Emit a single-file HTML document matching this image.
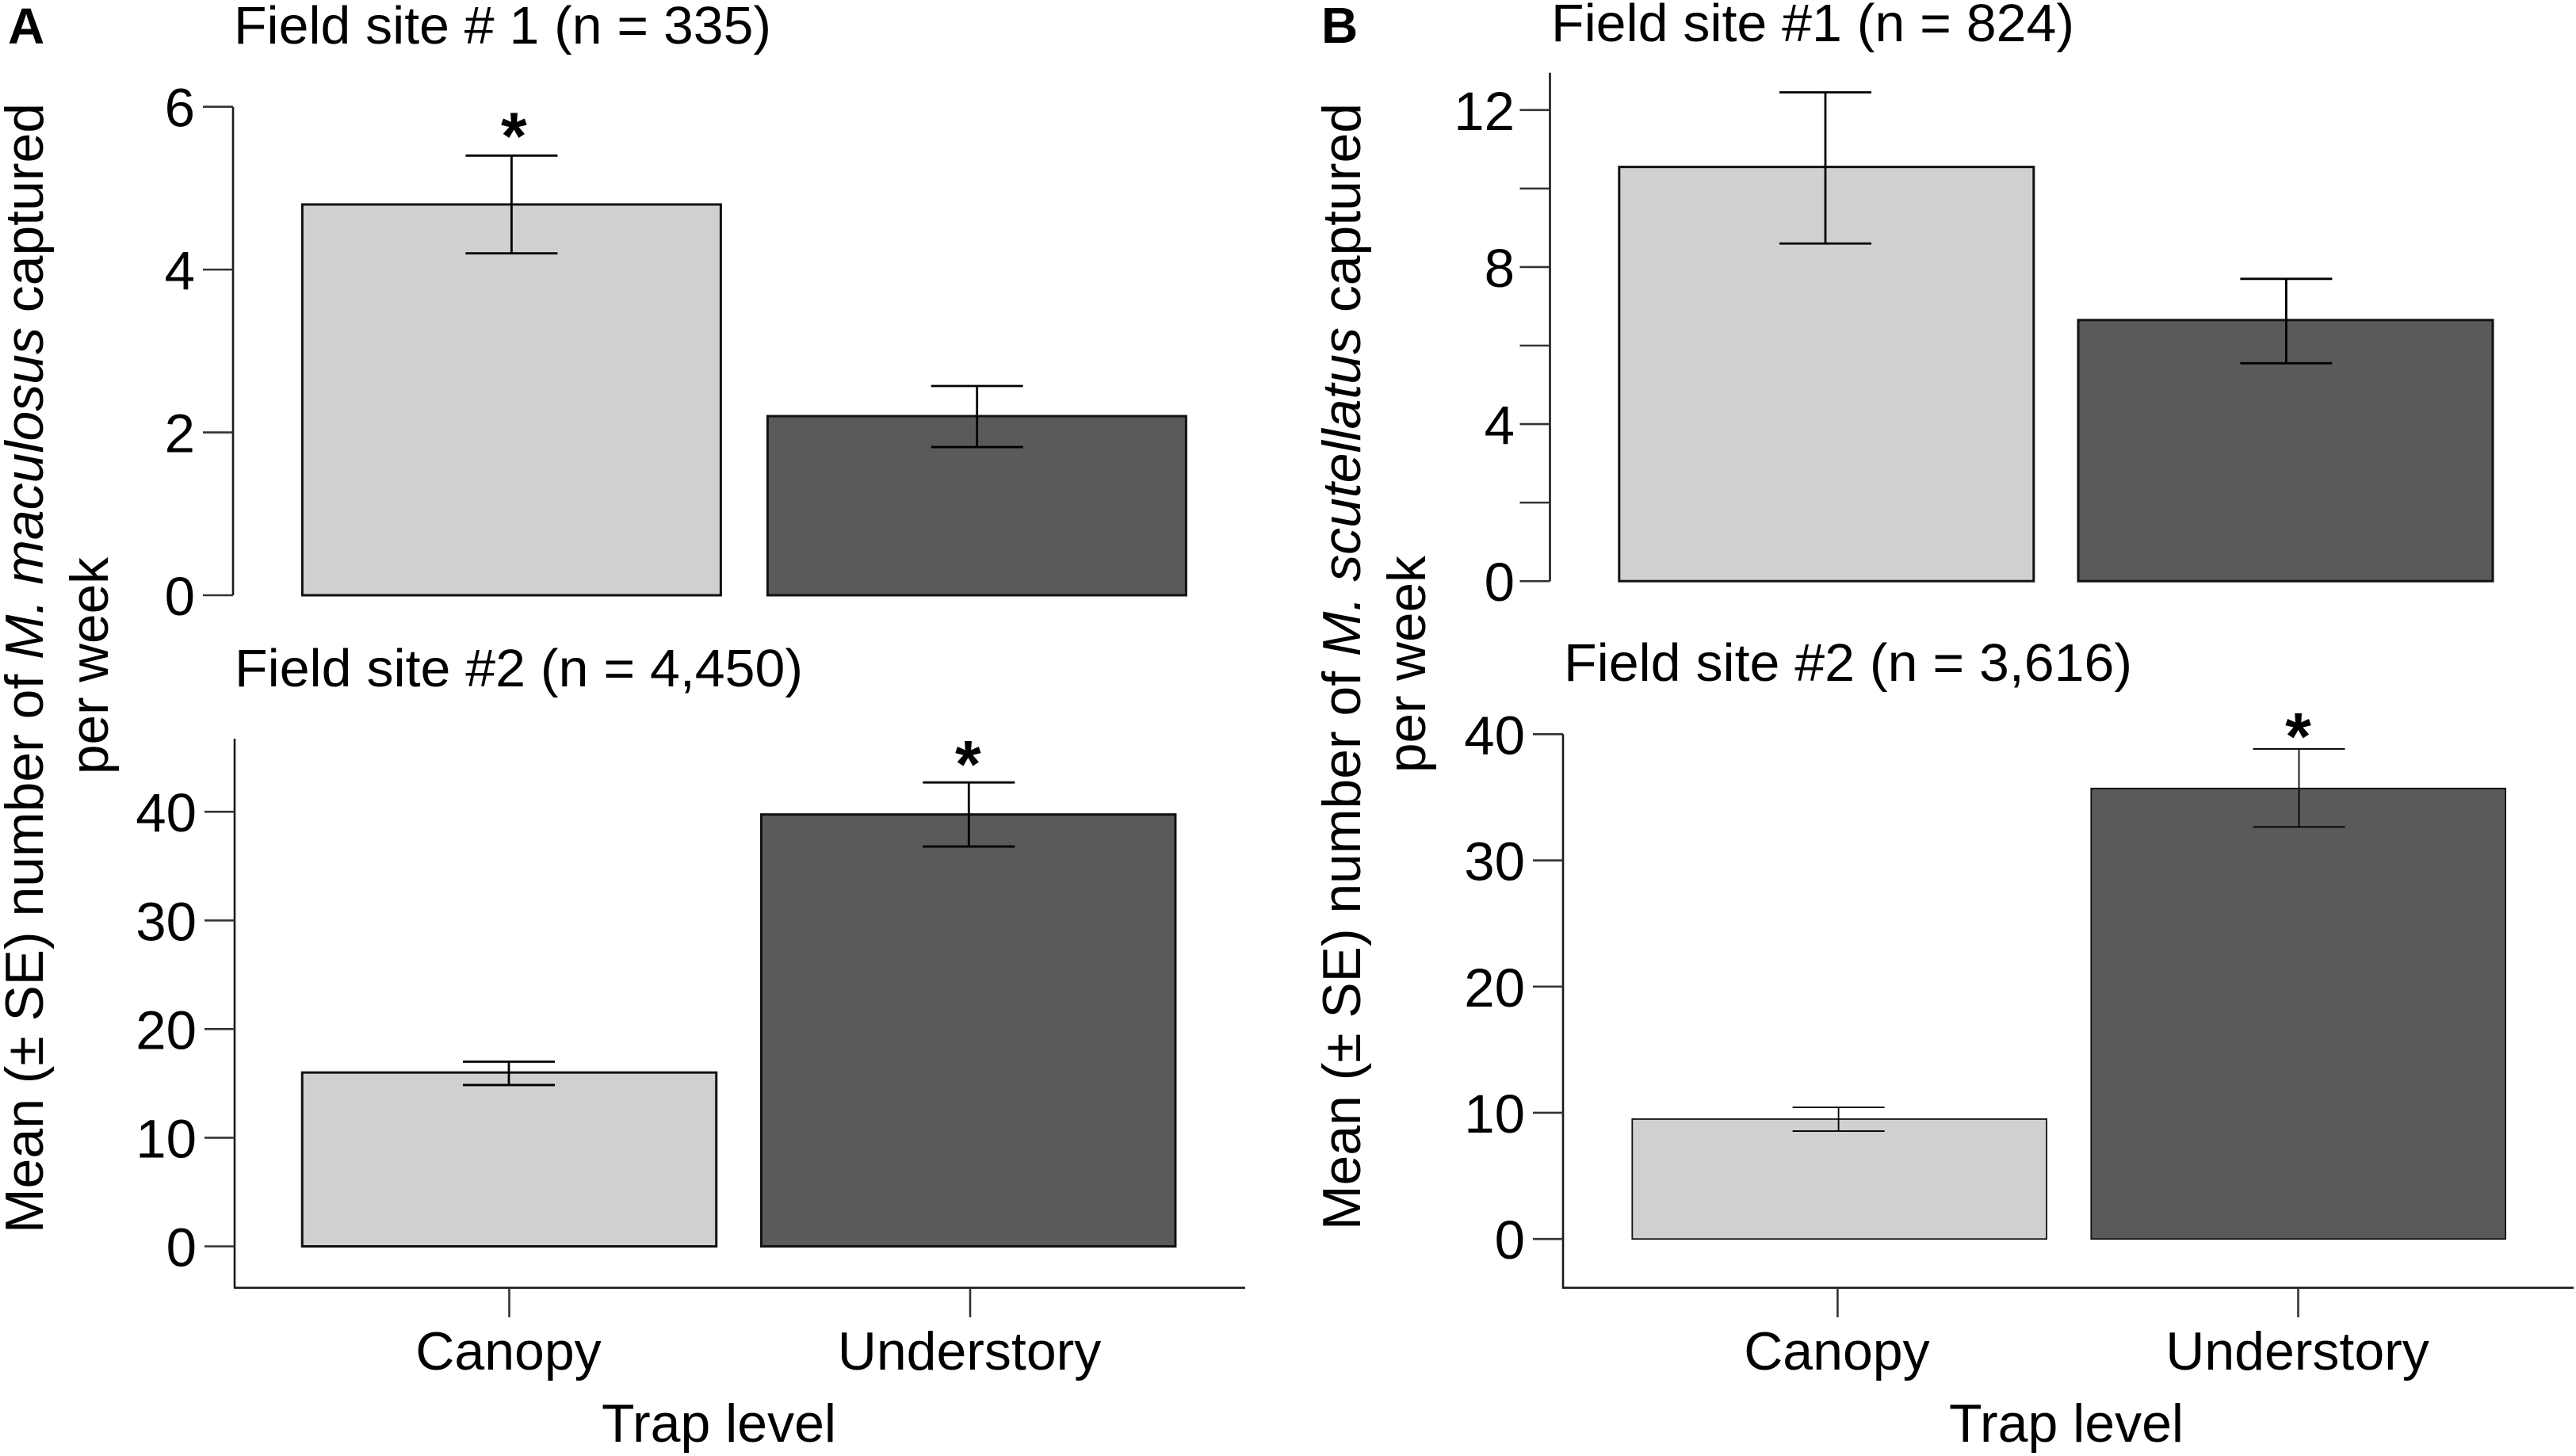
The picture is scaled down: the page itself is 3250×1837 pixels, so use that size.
<!DOCTYPE html>
<html lang="en">
<head>
<meta charset="utf-8">
<title>Mean number of Megaselia captured per week by trap level</title>
<style>
html,body{margin:0;padding:0;background:#fff;}
svg{display:block;}
text{font-family:"Liberation Sans",Arial,sans-serif;fill:#000;}
</style>
</head>
<body>
<svg id="chart" xmlns="http://www.w3.org/2000/svg" width="3250" height="1837" viewBox="0 0 3250 1837">
  <rect x="0" y="0" width="3250" height="1837" fill="#ffffff"/>
  <text x="10" y="55" font-size="64" font-weight="700">A</text>
  <text x="1667" y="54" font-size="64" font-weight="700">B</text>
  <text x="295" y="55" font-size="67" textLength="678" lengthAdjust="spacingAndGlyphs">Field site # 1 (n = 335)</text>
  <text x="296" y="866" font-size="67" textLength="717" lengthAdjust="spacingAndGlyphs">Field site #2 (n = 4,450)</text>
  <text x="1957" y="52" font-size="67" textLength="660" lengthAdjust="spacingAndGlyphs">Field site #1 (n = 824)</text>
  <text x="1973" y="859" font-size="67" textLength="717" lengthAdjust="spacingAndGlyphs">Field site #2 (n = 3,616)</text>
  <text transform="translate(54 1556) rotate(-90)" font-size="67.5" textLength="1426" lengthAdjust="spacingAndGlyphs">Mean (± SE) number of <tspan font-style="italic">M. maculosus</tspan> captured</text>
  <text transform="translate(136 977) rotate(-90)" font-size="67.5">per week</text>
  <text transform="translate(1716 1552) rotate(-90)" font-size="67.5" textLength="1422" lengthAdjust="spacingAndGlyphs">Mean (± SE) number of <tspan font-style="italic">M. scutellatus</tspan> captured</text>
  <text transform="translate(1798 975) rotate(-90)" font-size="67.5">per week</text>
  <text x="907" y="1819" font-size="68" text-anchor="middle">Trap level</text>
  <text x="2607" y="1819" font-size="68" text-anchor="middle">Trap level</text>
  <g id="marks"></g>
</svg>
<script>
// Shared categories
const categories = ['Canopy', 'Understory'];

// Panel A, field site 1
const a1Means = [4.8, 2.2];
const a1Upper = [5.4, 2.57];
const a1Lower = [4.2, 1.82];
const a1Ticks = [0, 2, 4, 6];
const a1TickLabels = ['0', '2', '4', '6'];
const a1Stars = [true, false];

// Panel A, field site 2
const a2Means = [16, 39.75];
const a2Upper = [17, 42.7];
const a2Lower = [14.85, 36.8];
const a2Ticks = [0, 10, 20, 30, 40];
const a2TickLabels = ['0', '10', '20', '30', '40'];
const a2Stars = [false, true];

// Panel B, field site 1
const b1Means = [10.55, 6.65];
const b1Upper = [12.45, 7.7];
const b1Lower = [8.6, 5.55];
const b1Ticks = [0, 2, 4, 6, 8, 10, 12];
const b1TickLabels = ['0', '', '4', '', '8', '', '12'];
const b1Stars = [false, false];

// Panel B, field site 2
const b2Means = [9.5, 35.7];
const b2Upper = [10.43, 38.83];
const b2Lower = [8.55, 32.65];
const b2Ticks = [0, 10, 20, 30, 40];
const b2TickLabels = ['0', '10', '20', '30', '40'];
const b2Stars = [false, true];

const SVG_NS = 'http://www.w3.org/2000/svg';
const root = document.getElementById('marks');

function make(tag, attrs, text) {
  const el = document.createElementNS(SVG_NS, tag);
  for (const k in attrs) el.setAttribute(k, attrs[k]);
  if (text !== undefined) el.textContent = text;
  root.appendChild(el);
  return el;
}

function linearScale(domainMin, domainMax, rangeMin, rangeMax) {
  return v => rangeMin + (v - domainMin) / (domainMax - domainMin) * (rangeMax - rangeMin);
}

function drawPanel(p) {
  const y = linearScale(0, p.domainMax, p.y0, p.yMax);
  const barX = i => p.barCenter + i * p.step;
  const errX = i => p.errCenter + i * p.errStep;

  // bars
  p.means.forEach((m, i) => {
    const top = y(m);
    const el = make('rect', {
      x: barX(i) - p.barWidth / 2,
      y: top,
      width: p.barWidth,
      height: y(0) - top,
      fill: i === 0 ? '#d1cfd0' : '#5a5a5a',
      stroke: '#111',
      'stroke-width': p.barStroke
    });
    
    
  });

  // error bars
  p.means.forEach((m, i) => {
    const cx = errX(i);
    const up = y(p.upper[i]);
    const lo = y(p.lower[i]);
    const stem = make('line', {x1: cx, x2: cx, y1: up, y2: lo, stroke: '#000', 'stroke-width': p.errStroke});
    
    
    const capU = make('line', {x1: cx - 58, x2: cx + 58, y1: up, y2: up, stroke: '#000', 'stroke-width': p.errStroke});
    
    
    const capL = make('line', {x1: cx - 58, x2: cx + 58, y1: lo, y2: lo, stroke: '#000', 'stroke-width': p.errStroke});
    
    
    if (p.stars[i]) {
      const star = make('text', {x: cx + p.starShift, y: up + p.starGap, 'font-size': 84, 'font-weight': 700, 'text-anchor': 'middle'}, '*');
      
      
    }
  });

  // y axis
  const yAxis = make('line', {x1: p.axisX, x2: p.axisX, y1: p.axisTop, y2: p.axisBottom, stroke: '#1a1a1a', 'stroke-width': 2.6});
  
  

  p.ticks.forEach((t, i) => {
    const ty = y(t);
    const tick = make('line', {x1: p.axisX - 38, x2: p.axisX, y1: ty, y2: ty, stroke: '#333', 'stroke-width': 2.6});
    
    
    if (p.tickLabels[i] !== '') {
      const label = make('text', {x: p.labelEnd, y: ty + 25, 'font-size': 69, 'text-anchor': 'end'}, p.tickLabels[i]);
      
      
    }
  });

  // x axis
  if (p.xAxisRight) {
    const xAxis = make('line', {x1: p.axisX - 1, x2: p.xAxisRight, y1: 1624.8, y2: 1624.8, stroke: '#1a1a1a', 'stroke-width': 2.6});
    
    
    categories.forEach((c, i) => {
      const tx = p.xTick + i * p.xTickStep;
      const tick = make('line', {x1: tx, x2: tx, y1: 1624.8, y2: 1662, stroke: '#333', 'stroke-width': 2.6});
      
      
      const label = make('text', {x: tx - 1, y: 1728, 'font-size': 68, 'text-anchor': 'middle'}, c);
      
      
    });
  }
}

drawPanel({
  id: 'panel-a1', means: a1Means, upper: a1Upper, lower: a1Lower, ticks: a1Ticks, tickLabels: a1TickLabels, stars: a1Stars,
  domainMax: 6, y0: 751, yMax: 134.7, axisX: 294, axisTop: 134.7, axisBottom: 751, labelEnd: 246,
  barCenter: 645.4, step: 587, barWidth: 528, barStroke: 3, errCenter: 645.4, errStep: 587.3, errStroke: 2.8, starGap: 4, starShift: 3
});
drawPanel({
  id: 'panel-a2', means: a2Means, upper: a2Upper, lower: a2Lower, ticks: a2Ticks, tickLabels: a2TickLabels, stars: a2Stars,
  domainMax: 40, y0: 1572.5, yMax: 1024.2, axisX: 296, axisTop: 932, axisBottom: 1624.8, labelEnd: 248,
  barCenter: 642.5, step: 579.2, barWidth: 522.5, barStroke: 3, errCenter: 642, errStep: 580.3, errStroke: 2.8, starGap: 6, starShift: -1,
  xAxisRight: 1571, xTick: 642.5, xTickStep: 581.5
});
drawPanel({
  id: 'panel-b1', means: b1Means, upper: b1Upper, lower: b1Lower, ticks: b1Ticks, tickLabels: b1TickLabels, stars: b1Stars,
  domainMax: 12, y0: 733.2, yMax: 138.8, axisX: 1955.5, axisTop: 91.8, axisBottom: 733.2, labelEnd: 1911,
  barCenter: 2304.3, step: 579.2, barWidth: 523, barStroke: 3, errCenter: 2303, errStep: 581.4, errStroke: 2.8, starGap: 6, starShift: 0
});
drawPanel({
  id: 'panel-b2', means: b2Means, upper: b2Upper, lower: b2Lower, ticks: b2Ticks, tickLabels: b2TickLabels, stars: b2Stars,
  domainMax: 40, y0: 1563.2, yMax: 926.3, axisX: 1972, axisTop: 926.3, axisBottom: 1624.8, labelEnd: 1924,
  barCenter: 2320.7, step: 579, barWidth: 522.8, barStroke: 1.8, errCenter: 2319.6, errStep: 580.9, errStroke: 1.8, starGap: 13, starShift: -1,
  xAxisRight: 3247, xTick: 2318.4, xTickStep: 581.1
});
</script>
</body>
</html>
